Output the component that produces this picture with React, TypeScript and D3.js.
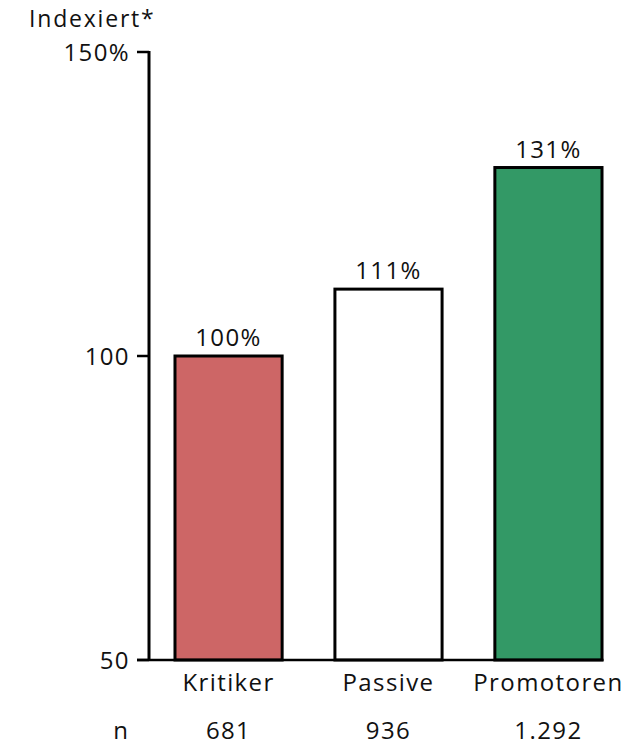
import React from "react";
import * as d3 from "d3";

const categories = ["Kritiker", "Passive", "Promotoren"];
const values = [100, 111, 131];
const valueLabels = ["100%", "111%", "131%"];
const sampleSizes = ["681", "936", "1.292"];
const barColors = ["#cd6666", "#ffffff", "#339966"];
const yTicks = [50, 100, 150];
const yTickLabels = ["50", "100", "150%"];

const W = 623;
const H = 745;
const FONT = "'Open Sans', 'Noto Sans', sans-serif";
const FS = 24;
const LS = 1.4;

export default function App() {
  const axisX = 149;
  const y = d3.scaleLinear().domain([50, 150]).range([660, 52]);
  const x = d3
    .scaleBand<string>()
    .domain(categories)
    .range([149, 628])
    .paddingInner(0.33)
    .paddingOuter(0.1625);

  const baseRight = (x("Promotoren") ?? 0) + x.bandwidth();

  return (
    <svg
      width={W}
      height={H}
      style={{ position: "absolute", left: 0, top: 0, background: "#fff" }}
      fontFamily={FONT}
    >
      <text x={29} y={27} fontSize={23} fill="#111" letterSpacing={1.8}>
        Indexiert*
      </text>

      {categories.map((c, i) => {
        const x0 = x(c) ?? 0;
        const cx = x0 + x.bandwidth() / 2;
        return (
          <g key={c}>
            <rect
              x={x0}
              y={y(values[i])}
              width={x.bandwidth()}
              height={y(50) - y(values[i])}
              fill={barColors[i]}
              stroke="#000"
              strokeWidth={3}
            />
            <text x={cx} y={y(values[i]) - 10} textAnchor="middle" fontSize={FS} fill="#111" letterSpacing={LS}>
              {valueLabels[i]}
            </text>
            <text x={cx} y={691} textAnchor="middle" fontSize={FS} fill="#111" letterSpacing={LS}>
              {c}
            </text>
            <text x={cx} y={739} textAnchor="middle" fontSize={FS} fill="#111" letterSpacing={LS}>
              {sampleSizes[i]}
            </text>
          </g>
        );
      })}

      <text x={128} y={739} textAnchor="end" fontSize={FS} fill="#111">
        n
      </text>

      {/* axes */}
      <line x1={axisX} x2={axisX} y1={y(150) - 1} y2={y(50)} stroke="#000" strokeWidth={3} />
      <line x1={137} x2={baseRight + 1.5} y1={y(50)} y2={y(50)} stroke="#000" strokeWidth={2.5} />
      {yTicks.map((t, i) => (
        <g key={t}>
          <line x1={137} x2={axisX} y1={y(t)} y2={y(t)} stroke="#000" strokeWidth={2.5} />
          <text x={130} y={y(t)} dy="0.36em" textAnchor="end" fontSize={FS} fill="#111" letterSpacing={LS}>
            {yTickLabels[i]}
          </text>
        </g>
      ))}
    </svg>
  );
}
